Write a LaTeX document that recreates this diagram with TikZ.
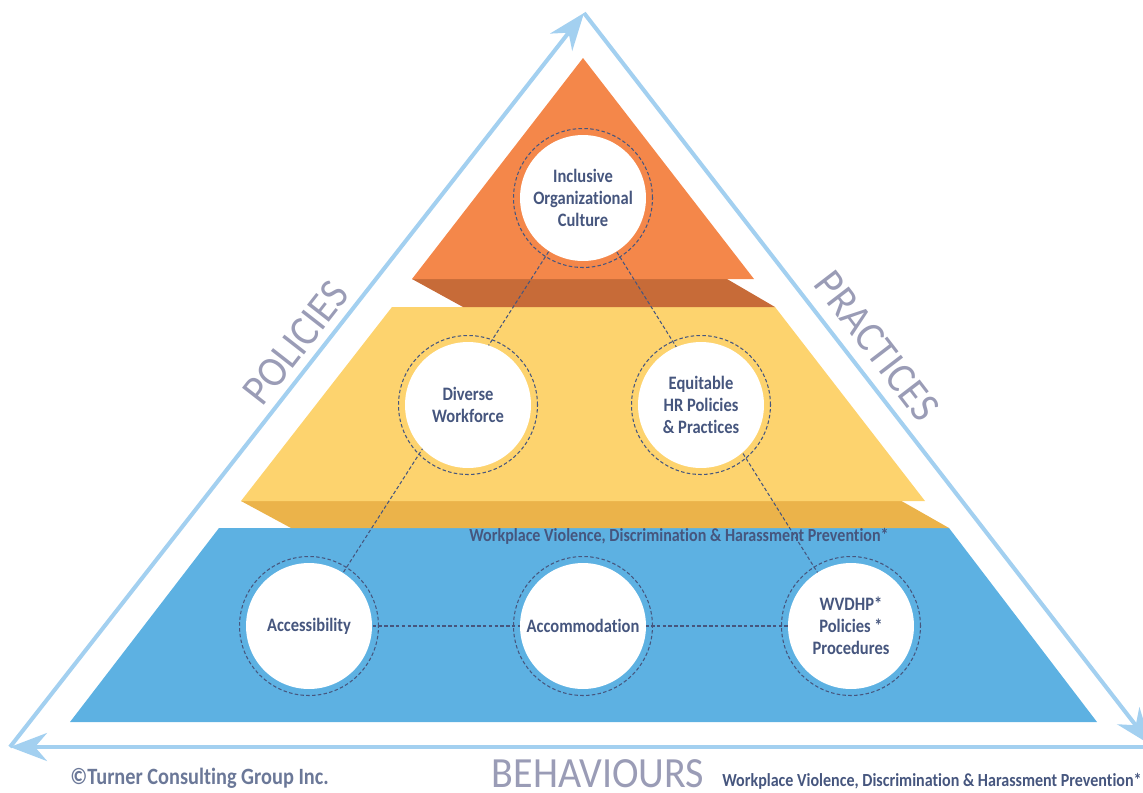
\documentclass[tikz,border=0pt]{standalone}
\usepackage{fontspec}
\usetikzlibrary{arrows.meta}
\newfontfamily\cond{Carlito}[FakeStretch=0.87, Ligatures=NoCommon]
\newfontfamily\thin{Carlito}[FakeStretch=0.93, Ligatures=NoCommon]
\definecolor{skyline}{HTML}{A3D0F0}
\definecolor{topface}{HTML}{F4874A}
\definecolor{topside}{HTML}{C76B38}
\definecolor{midface}{HTML}{FDD36E}
\definecolor{midside}{HTML}{EBB34A}
\definecolor{baseface}{HTML}{5DB1E2}
\definecolor{ink}{HTML}{46567E}
\definecolor{haze}{HTML}{9A9CB6}
\pgfdeclarelayer{bg}
\pgfdeclarelayer{mid}
\pgfsetlayers{bg,mid,main}

\begin{document}
\begin{tikzpicture}[x=0.02cm, y=-0.02cm,
  cycle/.style={skyline, line width=2.3pt, -{Stealth[length=0.74cm, width=0.56cm, inset=0.24cm]}},
  bubble/.style={circle, fill=white, minimum size=2.52cm, inner sep=0pt, align=center,
    text=ink, font=\cond\bfseries\fontsize{10.8}{12.5}\selectfont},
  ring/.style={draw=ink, dash pattern=on 2pt off 1.3pt, line width=0.6pt},
  link/.style={ink, dash pattern=on 2pt off 1.3pt, line width=0.6pt},
  sidelabel/.style={text=haze, font=\thin\fontsize{24.5}{26}\selectfont, inner sep=0pt},
  note/.style={text=ink, font=\cond\bfseries\fontsize{10.5}{12}\selectfont, inner sep=0pt}]
  \useasboundingbox (0,0) rectangle (1143,792);
  \clip (0,0) rectangle (1143,792);

  % pyramid slabs
  \begin{pgfonlayer}{bg}
    \fill[baseface] (219,528) -- (949,528) -- (1097,722) -- (70,722) -- cycle;
    \fill[midside] (241,501) -- (291,528) -- (949,528) -- (898,499) -- cycle;
    \fill[midface] (392,307) -- (775,307) -- (925,501) -- (241,501) -- cycle;
    \fill[topside] (412,279) -- (463,307) -- (775,307) -- (727,279) -- cycle;
    \fill[topface] (583,58) -- (754,279) -- (412,279) -- cycle;
  \end{pgfonlayer}

  % outer cycle
  \coordinate (apex) at (584,13);
  \coordinate (lcorner) at (10,747);
  \coordinate (rcorner) at (1151,745);
  \draw[cycle] (lcorner) -- (apex);
  \draw[cycle] (apex) -- (rcorner);
  \draw[cycle] (1160,747) -- (lcorner);

  % circles
  \node[bubble] (culture) at (583,198) {Inclusive\\Organizational\\Culture};
  \node[bubble] (diverse) at (468,405) {Diverse\\Workforce};
  \node[bubble] (equity) at (701,405) {Equitable\\HR Policies\\\& Practices};
  \node[bubble] (access) at (309,626) {Accessibility};
  \node[bubble] (accom) at (583,626) {Accommodation};
  \node[bubble] (wvdhp) at (851,626) {WVDHP*\\Policies *\\Procedures};
  \foreach \n in {culture, diverse, equity, access, accom, wvdhp}
    \draw[ring] (\n.center) circle[radius=1.39cm];

  % dashed links
  \begin{pgfonlayer}{mid}
    \draw[link] (culture.center) -- (access.center);
    \draw[link] (culture.center) -- (wvdhp.center);
    \draw[link] (access.center) -- (accom.center) -- (wvdhp.center);
  \end{pgfonlayer}

  % labels
  \node[sidelabel, rotate=52] (policies) at (296,343) {POLICIES};
  \node[sidelabel, rotate=-52.5] (practices) at (877,346) {PRACTICES};
  \node[sidelabel] (behaviours) at (598,774) {BEHAVIOURS};
  \node[note] (band) at (679,536) {Workplace Violence, Discrimination \& Harassment Prevention*};
  \node[note, anchor=east] (footnote) at (1142,781) {Workplace Violence, Discrimination \& Harassment Prevention*};
  \node[note, text=ink!80, font=\cond\bfseries\fontsize{13.3}{15}\selectfont, anchor=west] (credit) at (70,778) {©Turner Consulting Group Inc.};
\end{tikzpicture}
\end{document}
